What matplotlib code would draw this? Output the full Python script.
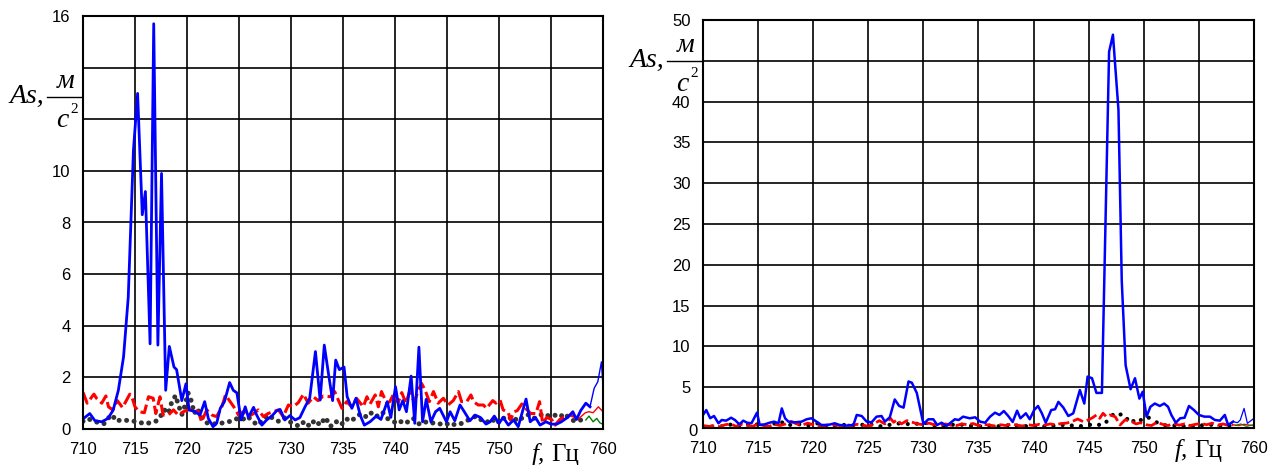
import numpy as np
import matplotlib
matplotlib.use('Agg')
import matplotlib.pyplot as plt
from matplotlib.lines import Line2D

plt.rcParams['font.family'] = ['Liberation Sans', 'DejaVu Sans']

W, H = 1274, 465

# ---- left panel (710..760 Hz, 0..16) ----
f_blue_l = [710.0, 710.65, 711.15, 711.8, 712.4, 712.9, 713.4, 713.9, 714.35, 714.85,
            715.25, 715.7, 716.0, 716.45, 716.8, 717.2, 717.55, 717.95, 718.3, 718.75,
            719.0, 719.5, 719.9, 720.2, 720.8, 721.25, 721.7, 722.05, 722.5, 722.85,
            723.2, 723.6, 724.1, 724.45, 724.8, 725.2, 725.6, 725.9, 726.4, 726.7,
            727.2, 727.65, 728.15, 728.6, 728.95, 729.4, 729.9, 730.4, 730.85, 731.35,
            731.8, 732.35, 732.8, 733.2, 733.6, 734.0, 734.3, 734.65, 735.1, 735.4,
            735.85, 736.25, 736.65, 737.05, 737.6, 738.2, 738.65, 739.25, 739.6, 740.05,
            740.4, 740.75, 741.1, 741.55, 741.9, 742.3, 742.65, 743.0, 743.45, 743.9,
            744.3, 744.95, 745.3, 745.75, 746.25, 746.6, 747.2, 747.7, 748.2, 748.75,
            749.15, 749.55, 750.0, 750.4, 750.9, 751.4, 751.85, 752.3, 752.6, 753.0,
            753.5, 753.95, 754.5, 755.0, 755.55, 756.0, 756.6, 757.1, 757.45, 757.85,
            758.35, 758.75]
a_blue_l = [0.39, 0.6, 0.32, 0.28, 0.41, 0.73, 1.5, 2.8, 5.1, 10.8,
            13.0, 8.3, 9.2, 3.3, 15.7, 3.25, 9.9, 1.5, 3.2, 2.4,
            2.3, 1.1, 1.75, 0.74, 0.67, 0.54, 1.06, 0.41, 0.09, 0.22,
            0.8, 1.06, 1.8, 1.5, 1.4, 0.35, 0.86, 0.45, 0.84, 0.54,
            0.15, 0.35, 0.5, 0.7, 0.76, 0.35, 0.52, 0.35, 0.44, 0.86,
            1.2, 3.0, 1.12, 3.25, 2.15, 1.1, 2.67, 2.3, 2.4, 1.25,
            0.8, 1.19, 0.54, 0.15, 0.28, 0.5, 0.37, 1.06, 0.45, 1.64,
            0.74, 1.1, 0.67, 2.05, 0.22, 3.17, 0.28, 1.15, 0.28, 0.67,
            0.8, 0.28, 0.67, 0.32, 0.93, 0.71, 0.32, 0.54, 0.45, 0.19,
            0.28, 0.5, 0.22, 0.45, 0.15, 0.35, 0.09, 0.74, 1.16, 0.28,
            0.45, 0.15, 0.28, 0.19, 0.19, 0.28, 0.45, 0.67, 0.37, 0.71,
            1.0, 0.86]
f_blue_l_tail = [758.75, 759.15, 759.5, 759.85, 760.0]
a_blue_l_tail = [0.86, 1.58, 1.83, 2.6, 1.64]

f_red_l = [710.0, 710.4, 711.05, 711.3, 711.8, 712.2, 712.45, 712.85, 713.3, 713.8,
           714.5, 714.8, 715.0, 715.4, 715.9, 716.3, 716.75, 717.0, 717.4, 717.7,
           718.2, 718.7, 719.15, 719.65, 720.1, 720.6, 721.1, 721.4, 721.9, 722.4,
           722.85, 723.35, 723.7, 724.15, 724.6, 724.95, 725.4, 725.9, 726.4, 726.85,
           727.35, 727.8, 728.3, 728.8, 729.25, 729.75, 730.2, 730.7, 731.2, 731.65,
           732.15, 732.6, 733.1, 733.75, 734.2, 734.55, 734.9, 735.35, 735.85, 736.3,
           736.95, 737.3, 737.6, 738.1, 738.4, 738.7, 739.2, 739.5, 739.9, 740.3,
           740.65, 741.05, 741.4, 741.85, 742.25, 742.55, 742.9, 743.3, 743.7, 744.15,
           744.65, 745.1, 745.6, 746.1, 746.4, 746.9, 747.3, 747.55, 748.0, 748.5,
           748.8, 749.4, 749.7, 750.1, 750.4, 750.9, 751.1, 751.45, 751.75, 752.2,
           752.65, 753.05, 753.55, 753.9, 754.2, 754.6, 755.05, 755.4, 755.85, 756.35,
           756.85, 757.3, 757.6]
a_red_l = [1.42, 1.0, 1.35, 1.19, 1.0, 1.28, 0.86, 0.74, 1.1, 0.83,
           1.35, 1.12, 0.86, 0.67, 0.63, 1.25, 1.19, 0.6, 1.25, 0.54,
           0.54, 0.74, 0.54, 0.67, 0.74, 0.76, 0.67, 0.28, 0.74, 0.54,
           0.48, 0.86, 1.32, 1.06, 0.8, 0.54, 0.67, 0.48, 0.6, 0.74,
           0.48, 0.6, 0.67, 0.74, 0.48, 0.93, 0.86, 1.02, 1.35, 1.0,
           1.25, 1.1, 1.28, 1.25, 1.45, 1.12, 0.8, 1.06, 0.86, 1.19,
           0.86, 1.25, 0.97, 1.32, 0.86, 1.45, 1.0, 1.06, 1.38, 1.02,
           1.41, 1.0, 1.45, 1.06, 1.5, 1.77, 1.5, 1.06, 1.45, 1.0,
           1.19, 0.93, 1.1, 1.45, 1.06, 1.06, 1.32, 1.06, 0.93, 0.93,
           0.8, 1.1, 1.0, 1.12, 0.74, 0.63, 0.35, 0.67, 0.71, 0.97,
           0.76, 0.6, 0.6, 1.06, 0.22, 0.45, 0.37, 0.15, 0.37, 0.48,
           0.54, 0.48, 0.37]
f_red_l_tail = [757.6, 757.8, 758.3, 758.65, 759.05, 759.55, 760.0]
a_red_l_tail = [0.37, 0.45, 0.63, 0.67, 0.63, 0.86, 0.67]
f_green_l = [758.35, 758.65, 759.05, 759.4, 759.7, 760.0]
a_green_l = [0.35, 0.5, 0.28, 0.41, 0.24, 0.18]

f_black_l = [710.0, 710.5, 711.0, 711.5, 712.0, 712.5, 712.8, 713.2, 713.6, 714.0,
             714.6, 715.0, 715.5, 716.0, 716.5, 717.0, 717.4, 717.8, 718.2, 718.5,
             718.9, 719.2, 719.5, 719.8, 720.1, 720.4, 720.7, 721.0, 721.4, 721.8,
             722.3, 723.0, 723.6, 724.2, 724.8, 725.3, 725.8, 726.3, 726.8, 727.3,
             727.8, 728.3, 728.8, 729.3, 729.8, 730.3, 730.8, 731.3, 731.8, 732.3,
             732.8, 733.3, 733.8, 734.3, 734.8, 735.3, 735.8, 736.3, 736.8, 737.3,
             737.8, 738.3, 738.8, 739.3, 739.8, 740.3, 740.8, 741.3, 741.8, 742.3,
             742.8, 743.3, 743.8, 744.3, 744.8, 745.3, 745.8, 746.3, 746.8, 747.3,
             747.8, 748.3, 748.8, 749.3, 749.8, 750.3, 750.8, 751.3, 751.8, 752.3,
             752.8, 753.3, 753.8, 754.3, 754.8, 755.3, 755.8, 756.3, 756.8, 757.3,
             757.8, 758.3]
a_black_l = [0.3, 0.4, 0.3, 0.25, 0.2, 0.45, 0.55, 0.3, 0.35, 0.35,
             0.3, 0.3, 0.25, 0.2, 0.25, 0.3, 0.45, 0.75, 0.6, 1.0,
             1.3, 0.9, 0.55, 0.9, 1.4, 1.1, 0.6, 0.8, 0.45, 0.25,
             0.2, 0.2, 0.25, 0.3, 0.4, 0.35, 0.5, 0.3, 0.15, 0.35,
             0.55, 0.4, 0.3, 0.45, 0.3, 0.2, 0.1, 0.3, 0.1, 0.35,
             0.15, 0.45, 0.1, 0.3, 0.15, 0.4, 0.3, 0.5, 0.6, 0.45,
             0.65, 0.5, 0.65, 0.4, 0.3, 0.2, 0.35, 0.25, 0.4, 0.2,
             0.3, 0.2, 0.25, 0.2, 0.15, 0.25, 0.15, 0.2, 0.3, 0.4,
             0.5, 0.35, 0.25, 0.4, 0.2, 0.45, 0.35, 0.5, 0.3, 0.45,
             0.55, 0.4, 0.5, 0.6, 0.5, 0.55, 0.45, 0.6, 0.4, 0.3,
             0.35, 0.3]

# ---- right panel (710..760 Hz, 0..50) ----
f_blue_r = [710.0, 710.3, 710.65, 711.0, 711.4, 711.7, 712.1, 712.55, 712.9, 713.3,
            713.65, 714.0, 714.4, 714.9, 715.15, 715.6, 716.05, 716.45, 716.85, 717.15,
            717.45, 717.75, 718.35, 718.95, 719.4, 719.85, 720.3, 720.75, 721.35, 721.95,
            722.4, 723.0, 723.65, 723.95, 724.4, 724.85, 725.3, 725.75, 726.2, 726.5,
            726.95, 727.4, 727.8, 728.2, 728.65, 728.95, 729.4, 730.0, 730.45, 730.9,
            731.25, 731.65, 732.1, 732.85, 733.2, 733.6, 734.2, 734.7, 735.15, 735.6,
            736.05, 736.5, 736.9, 737.3, 737.7, 738.1, 738.5, 738.8, 739.3, 739.65,
            740.05, 740.4, 740.75, 741.1, 741.6, 741.95, 742.25, 742.7, 743.15, 743.6,
            744.2, 744.6, 744.9, 745.3, 745.7, 746.2, 746.85, 747.2, 747.7, 748.0,
            748.35, 748.8, 749.2, 749.6, 749.9, 750.25, 750.6, 751.0, 751.45, 751.85,
            752.2, 752.5, 752.9, 753.3, 753.7, 754.1, 754.55, 755.0, 755.5, 756.0,
            756.45, 756.9, 757.35, 757.65, 758.1]
a_blue_r = [1.6, 2.2, 1.2, 1.47, 0.58, 0.98, 0.9, 1.26, 0.98, 0.45,
            0.9, 0.65, 0.58, 1.88, 0.37, 0.45, 0.65, 0.78, 0.58, 2.4,
            1.19, 0.78, 0.7, 0.78, 1.07, 1.19, 0.78, 0.37, 0.37, 0.58,
            0.37, 0.29, 0.37, 1.6, 1.47, 0.78, 0.7, 1.39, 1.47, 0.78,
            1.31, 3.5, 2.7, 2.5, 5.7, 5.55, 4.3, 0.49, 1.07, 1.07,
            0.37, 0.65, 0.25, 1.07, 0.98, 1.39, 1.19, 1.31, 0.78, 0.65,
            1.39, 1.88, 1.6, 2.08, 1.47, 0.74, 2.12, 1.19, 1.8, 1.07,
            2.2, 2.7, 1.8, 0.65, 2.2, 2.3, 3.2, 2.5, 1.47, 1.8,
            4.65, 3.0, 6.3, 6.1, 4.3, 4.3, 46.1, 48.2, 39.0, 18.0,
            7.7, 4.75, 6.1, 3.6, 4.45, 1.39, 2.6, 3.0, 2.7, 3.0,
            2.6, 1.6, 0.65, 1.19, 1.26, 2.7, 2.2, 1.6, 1.39, 1.39,
            0.98, 0.9, 1.6, 0.37, 0.78]
f_blue_r_tail = [758.1, 758.5, 758.75, 759.1, 759.4, 759.8, 760.0]
a_blue_r_tail = [0.78, 0.65, 0.98, 2.4, 0.57, 0.98, 1.2]

f_red_r = [710.0, 710.5, 711.0, 711.5, 712.0, 712.5, 713.0, 713.5, 714.0, 714.5,
           715.0, 715.5, 716.0, 716.5, 717.0, 717.5, 718.0, 718.5, 719.0, 719.5,
           720.0, 720.5, 721.0, 721.5, 722.0, 722.5, 723.0, 723.5, 724.0, 724.5,
           725.0, 725.5, 726.0, 726.5, 727.0, 727.3, 727.6, 728.0, 728.5, 729.0,
           729.5, 730.0, 730.5, 731.0, 731.5, 732.0, 732.5, 733.0, 733.5, 734.0,
           734.5, 735.0, 735.5, 736.0, 736.5, 737.0, 737.5, 738.0, 738.5, 739.0,
           739.5, 740.0, 740.5, 741.0, 741.5, 742.0, 742.5, 743.0, 743.5, 744.0,
           744.5, 745.0, 745.4, 745.7, 746.0, 746.3, 746.6, 746.9, 747.4, 747.85,
           748.3, 748.9, 749.3, 749.7, 750.2, 750.7, 751.2, 751.7, 752.2, 752.7,
           753.2, 753.7, 754.2, 754.7, 755.2, 755.7, 756.2, 756.7, 757.2, 757.7,
           758.1]
a_red_r = [0.3, 0.2, 0.25, 0.15, 0.4, 0.5, 0.2, 0.45, 0.3, 0.2,
           0.5, 0.3, 0.2, 0.45, 0.3, 0.5, 0.8, 0.5, 0.35, 0.6,
           0.4, 0.2, 0.3, 0.45, 0.35, 0.3, 0.4, 0.3, 0.45, 0.35,
           0.2, 0.5, 0.9, 0.5, 1.2, 0.7, 1.0, 0.5, 0.9, 0.7,
           0.5, 0.4, 0.6, 0.4, 0.3, 0.5, 0.35, 0.3, 0.5, 0.4,
           0.55, 0.3, 0.45, 0.35, 0.25, 0.4, 0.3, 0.5, 0.35, 0.25,
           0.4, 0.3, 0.45, 0.35, 0.5, 0.4, 0.55, 0.6, 0.8, 1.1,
           0.78, 1.0, 1.31, 1.6, 1.19, 1.8, 1.39, 1.6, 1.39, 0.37,
           1.0, 0.78, 0.5, 0.65, 0.4, 0.3, 0.7, 0.45, 0.3, 0.55,
           0.35, 0.5, 0.3, 0.45, 0.55, 0.4, 0.6, 0.35, 0.5, 0.3,
           0.4]
f_red_r_tail = [758.1, 758.6, 759.1, 759.6, 760.0]
a_red_r_tail = [0.4, 0.3, 0.45, 0.35, 0.3]
f_green_r = [758.3, 758.8, 759.3, 759.8, 760.0]
a_green_r = [0.3, 0.5, 0.2, 0.35, 0.4]

f_black_r = [710.0, 711.0, 712.0, 712.7, 713.5, 714.5, 715.2, 716.0, 717.0, 717.5,
             718.5, 719.5, 720.5, 721.0, 722.0, 723.0, 724.0, 725.0, 726.0, 727.0,
             728.0, 729.0, 730.0, 731.0, 732.0, 733.0, 734.0, 735.0, 736.0, 737.0,
             738.0, 739.0, 740.0, 741.0, 742.0, 743.0, 744.0, 744.8, 745.5, 746.3,
             746.9, 747.4, 748.0, 748.4, 748.75, 749.2, 749.5, 750.25, 750.85, 751.5,
             752.2, 753.0, 754.0, 755.0, 756.0, 757.0, 758.0, 758.5]
a_black_r = [0.15, 0.2, 0.2, 0.5, 0.2, 0.6, 0.3, 0.2, 0.9, 0.3,
             0.5, 0.3, 0.6, 0.2, 0.3, 0.4, 0.3, 0.5, 0.2, 0.4,
             0.6, 0.4, 0.7, 0.3, 0.2, 0.5, 0.3, 0.2, 0.3, 0.2,
             0.4, 0.2, 0.3, 0.2, 0.3, 0.4, 0.2, 0.3, 0.5, 0.3,
             1.2, 1.9, 1.6, 1.0, 1.39, 0.6, 0.78, 1.4, 0.98, 0.4,
             0.3, 0.3, 0.2, 0.3, 0.4, 0.3, 0.3, 0.2]

x_ticks = [710, 715, 720, 725, 730, 735, 740, 745, 750, 755, 760]
x_labels = ['710', '715', '720', '725', '730', '735', '740', '745', '750', '', '760']
yl_ticks = [0, 2, 4, 6, 8, 10, 12, 14, 16]
yl_labels = ['0', '2', '4', '6', '8', '10', '', '', '16']
yr_ticks = [0, 5, 10, 15, 20, 25, 30, 35, 40, 45, 50]
yr_labels = ['', '5', '10', '15', '20', '25', '30', '35', '40', '', '50']

fig = plt.figure(figsize=(W / 100, H / 100), dpi=100)
ax1 = fig.add_axes([83/W, 36/H, 520/W, 413/H])
ax2 = fig.add_axes([703/W, 37/H, 551/W, 408/H])


def style(ax, ymax, yt, ytl):
    ax.set_xlim(710, 760)
    ax.set_ylim(0, ymax)
    ax.set_xticks(x_ticks)
    ax.set_xticklabels(x_labels)
    ax.set_yticks(yt)
    ax.set_yticklabels(ytl)
    ax.grid(True, color='black', lw=1.2)
    ax.tick_params(length=0, labelsize=12, pad=9)
    for s in ax.spines.values():
        s.set_color('black')
        s.set_linewidth(1.5)
    ax.set_axisbelow(True)


style(ax1, 16, yl_ticks, yl_labels)
style(ax2, 50, yr_ticks, yr_labels)

# left
ax1.plot(f_black_l, a_black_l, color='#333333', lw=3.6, linestyle=(0, (0.01, 1.5)),
         dash_capstyle='round')
ax1.plot(f_red_l, a_red_l, color='red', lw=2.2, linestyle=(0, (4, 1.4)))
ax1.plot(f_red_l_tail, a_red_l_tail, color='red', lw=1.0)
ax1.plot(f_green_l, a_green_l, color='green', lw=1.0)
ax1.plot(f_blue_l, a_blue_l, color='blue', lw=2.0)
ax1.plot(f_blue_l_tail, a_blue_l_tail, color='blue', lw=1.0)

# right
ax2.plot(f_black_r, a_black_r, color='black', lw=3.0, linestyle=(0, (0.01, 2.2)),
         dash_capstyle='round')
ax2.plot(f_red_r, a_red_r, color='red', lw=2.0, linestyle=(0, (4, 1.4)))
ax2.plot(f_red_r_tail, a_red_r_tail, color='red', lw=1.0)
ax2.plot(f_green_r, a_green_r, color='green', lw=0.8)
ax2.plot(f_blue_r, a_blue_r, color='blue', lw=1.8)
ax2.plot(f_blue_r_tail, a_blue_r_tail, color='blue', lw=0.9)


def px(x, y):
    return x / W, 1 - y / H


def ylabel_at(x0, ybar):
    # "As," + fraction м / с², placed in figure pixels
    serif = dict(family='Liberation Serif', style='italic', fontsize=20)
    fig.text(*px(x0, ybar + 6), 'As,', ha='left', va='baseline', **serif)
    fig.add_artist(Line2D([(x0 + 37) / W, (x0 + 72) / W],
                          [1 - ybar / H, 1 - ybar / H], color='black', lw=1.0))
    fig.text(*px(x0 + 56, ybar - 9), 'м', ha='center', va='baseline', **serif)
    fig.text(*px(x0 + 52, ybar + 30), 'с', ha='center', va='baseline', **serif)
    fig.text(*px(x0 + 60, ybar + 16), '2', ha='left', va='baseline',
             family='Liberation Serif', fontsize=11)


ylabel_at(10, 97)
ylabel_at(630, 61)


def xlabel_at(x0, yb):
    fig.text(*px(x0, yb), 'f,', ha='left', va='baseline', family='Liberation Serif',
             style='italic', fontsize=18)
    fig.text(*px(x0 + 19, yb), 'Гц', ha='left', va='baseline',
             family='Liberation Serif', fontsize=18)


xlabel_at(532, 461)
xlabel_at(1175, 457)

fig.text(*px(693, 431), '0', fontsize=12, ha='center', va='center')

fig.savefig('out.png', dpi=100)
